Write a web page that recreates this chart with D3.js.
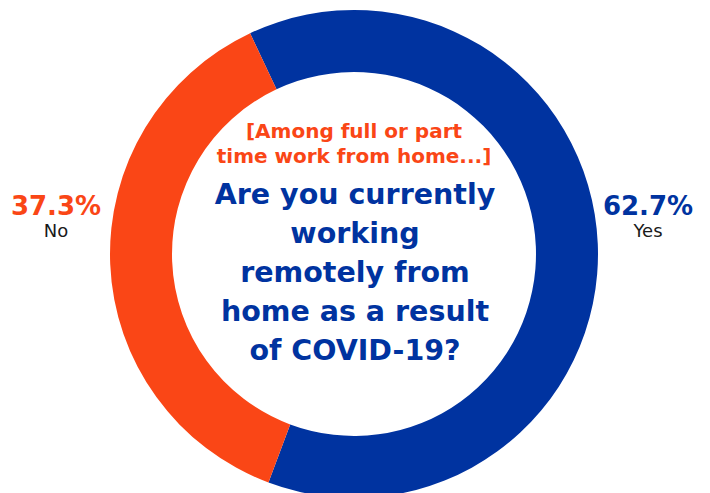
<!DOCTYPE html>
<html>
<head>
<meta charset="utf-8">
<script src="https://cdn.jsdelivr.net/npm/d3@7"></script>
<style>
  html, body { margin: 0; padding: 0; background: #ffffff; }
  svg { display: block; }
</style>
</head>
<body>
<svg id="chart" width="710" height="493"></svg>
<script>
// Survey answers
const categories = ["Yes", "No"];
const values = [62.7, 37.3];
const valueLabels = ["62.7%", "37.3%"];
const colors = ["#0033A0", "#FA4616"];

// Centre text
const noteLines = ["[Among full or part", "time work from home...]"];
const questionLines = ["Are you currently", "working", "remotely from", "home as a result", "of COVID-19?"];

const W = 710, H = 493;
const cx = 354, cy = 254;
const outerR = 244, innerR = 182;
const startDeg = -25.2;

const svg = d3.select("#chart");
const g = svg.append("g").attr("transform", `translate(${cx},${cy})`);

const color = d3.scaleOrdinal().domain(categories).range(colors);

const pie = d3.pie()
  .sort(null)
  .value(d => d.value)
  .startAngle(startDeg * Math.PI / 180)
  .endAngle(startDeg * Math.PI / 180 + 2 * Math.PI);

const data = categories.map((c, i) => ({ category: c, value: values[i], label: valueLabels[i] }));
const arcs = pie(data);

const arc = d3.arc().innerRadius(innerR).outerRadius(outerR);

g.selectAll("path.slice")
  .data(arcs)
  .join("path")
  .attr("class", "slice")
  .attr("d", arc)
  .attr("fill", d => color(d.data.category));

// Side labels: left or right of the ring depending on the slice's centroid
const labelArc = d3.arc().innerRadius(outerR).outerRadius(outerR);
const labelOffset = 296;
const lbl = g.selectAll("g.lbl")
  .data(arcs)
  .join("g")
  .attr("class", "lbl")
  .attr("transform", d => {
    const side = labelArc.centroid(d)[0] >= 0 ? 1 : -1;
    return `translate(${side * labelOffset - 2},0)`;
  });

lbl.append("text")
  .attr("y", -39)
  .attr("text-anchor", "middle")
  .attr("font-family", "'DejaVu Sans', sans-serif")
  .attr("font-weight", "bold")
  .attr("font-size", 26)
  .attr("fill", d => color(d.data.category))
  .text(d => d.data.label);

lbl.append("text")
  .attr("y", -17)
  .attr("text-anchor", "middle")
  .attr("font-family", "'DejaVu Sans', sans-serif")
  .attr("font-size", 18)
  .attr("fill", "#1a1a1a")
  .text(d => d.data.category);

// Centre note and question
const center = g.append("g").attr("text-anchor", "middle");

center.selectAll("text.note")
  .data(noteLines)
  .join("text")
  .attr("class", "note")
  .attr("x", 0)
  .attr("y", (d, i) => -116 + i * 25)
  .attr("font-family", "'DejaVu Sans', sans-serif")
  .attr("font-weight", "bold")
  .attr("font-size", 20)
  .attr("fill", colors[1])
  .text(d => d);

center.selectAll("text.q")
  .data(questionLines)
  .join("text")
  .attr("class", "q")
  .attr("x", 1)
  .attr("y", (d, i) => -50 + i * 39)
  .attr("font-family", "'DejaVu Sans', sans-serif")
  .attr("font-weight", "bold")
  .attr("font-size", 28.5)
  .attr("fill", colors[0])
  .text(d => d);
</script>
</body>
</html>
